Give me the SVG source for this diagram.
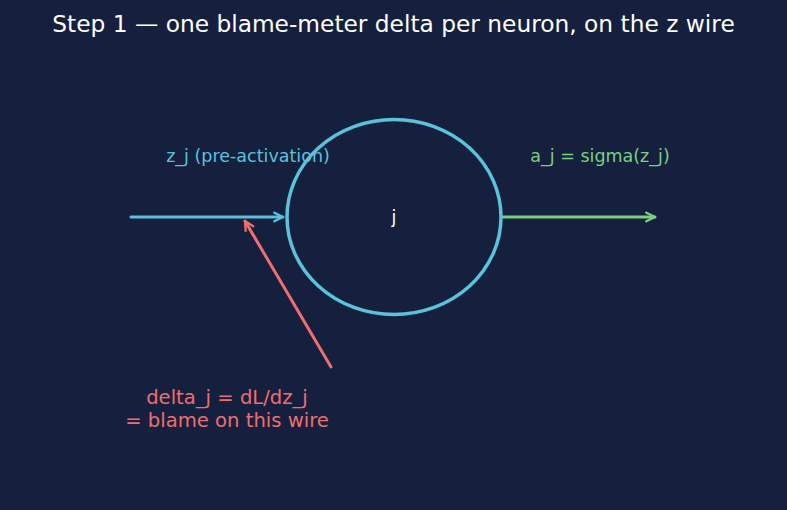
<svg xmlns="http://www.w3.org/2000/svg" width="787" height="510" viewBox="0 0 787 510">
<style>
text{font-family:"DejaVu Sans",sans-serif;}
.title{fill:#ffffff;font-size:23.3px;}
.lbl{font-size:17.5px;}
.wire{fill:none;stroke-width:3;stroke-linecap:round;}
</style>
<defs>
<marker id="ab" viewBox="0 0 10 10" refX="9" refY="5" markerWidth="4" markerHeight="4" orient="auto"><path d="M1,1 L9,5 L1,9" fill="none" stroke="#5bc2dc" stroke-width="2"/></marker>
<marker id="ag" viewBox="0 0 10 10" refX="9" refY="5" markerWidth="4" markerHeight="4" orient="auto"><path d="M1,1 L9,5 L1,9" fill="none" stroke="#7dd07c" stroke-width="2"/></marker>
<marker id="ar" viewBox="0 0 10 10" refX="9" refY="5" markerWidth="4" markerHeight="4" orient="auto"><path d="M1,1 L9,5 L1,9" fill="none" stroke="#f06e6e" stroke-width="2"/></marker>
</defs>
<rect width="787" height="510" fill="#151f3e"/>
<text class="title" x="393.5" y="32" text-anchor="middle">Step 1 — one blame-meter delta per neuron, on the z wire</text>
<g id="connectors">
<line class="wire" x1="131" y1="217" x2="283" y2="217" stroke="#5bc2dc" marker-end="url(#ab)"/>
<line class="wire" x1="503" y1="217" x2="655" y2="217" stroke="#7dd07c" marker-end="url(#ag)"/>
<line class="wire" x1="331" y1="367" x2="245" y2="221" stroke="#f06e6e" marker-end="url(#ar)"/>
</g>
<g id="neuron-j">
<ellipse cx="394" cy="217" rx="107" ry="97.5" fill="none" stroke="#5bc2dc" stroke-width="3.5"/>
<text x="394" y="223" text-anchor="middle" fill="#ffffff" font-size="17.5">j</text>
</g>
<g id="label-z">
<text class="lbl" x="248" y="162" text-anchor="middle" fill="#5bc2dc">z_j (pre-activation)</text>
</g>
<g id="label-a">
<text class="lbl" x="600" y="162" text-anchor="middle" fill="#7dd07c">a_j = sigma(z_j)</text>
</g>
<g id="label-delta">
<text x="227" y="404" text-anchor="middle" fill="#f06e6e" font-size="19.6">delta_j = dL/dz_j</text>
<text x="227" y="427" text-anchor="middle" fill="#f06e6e" font-size="19.6">= blame on this wire</text>
</g>
</svg>
